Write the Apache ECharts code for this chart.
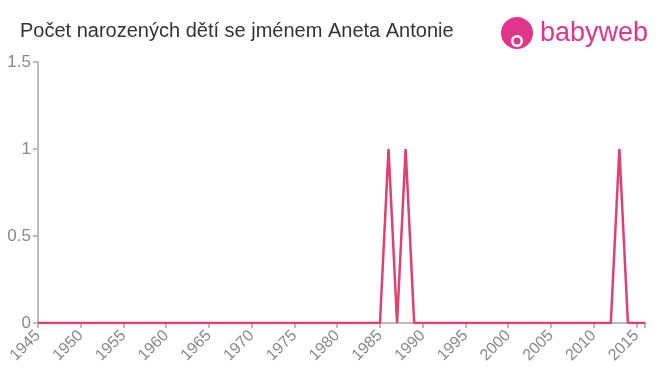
<!DOCTYPE html>
<html><head><meta charset="utf-8">
<script src="https://cdn.jsdelivr.net/npm/echarts@6/dist/echarts.min.js"></script>
<style>html,body{margin:0;padding:0;background:#fff}#c{width:660px;height:375px}</style>
</head><body><div id="c"></div>
<script>
var titleText = 'Počet narozených dětí se jménem Aneta Antonie';
var years = [1945,1946,1947,1948,1949,1950,1951,1952,1953,1954,1955,1956,1957,1958,1959,1960,1961,1962,1963,1964,1965,1966,1967,1968,1969,1970,1971,1972,1973,1974,1975,1976,1977,1978,1979,1980,1981,1982,1983,1984,1985,1986,1987,1988,1989,1990,1991,1992,1993,1994,1995,1996,1997,1998,1999,2000,2001,2002,2003,2004,2005,2006,2007,2008,2009,2010,2011,2012,2013,2014,2015,2016];
var counts = [0,0,0,0,0,0,0,0,0,0,0,0,0,0,0,0,0,0,0,0,0,0,0,0,0,0,0,0,0,0,0,0,0,0,0,0,0,0,0,0,0,1,0,1,0,0,0,0,0,0,0,0,0,0,0,0,0,0,0,0,0,0,0,0,0,0,0,0,1,0,0,0];
var yTicks = [0, 0.5, 1, 1.5];

var chart = echarts.init(document.getElementById('c'), null, {renderer:'canvas'});
var data = years.map(function(y,i){return [y, counts[i]];});
chart.setOption({
  animation:false,
  title:{text:titleText,left:15,top:16,textStyle:{fontFamily:'Liberation Sans, Arial, sans-serif',fontSize:20,fontWeight:'normal',color:'#333'}},
  graphic:[
    {type:'circle',shape:{cx:517,cy:33,r:16},style:{fill:'#e0358a'}},
    {type:'circle',shape:{cx:517,cy:41,r:6},style:{fill:'#fff'}},
    {type:'circle',shape:{cx:517,cy:41,r:3.5},style:{fill:'#e0358a'}},
    {type:'text',x:540,y:20,style:{text:'babyweb',fontFamily:'Liberation Sans, Arial, sans-serif',fontSize:27,fill:'#e0358a'}}
  ],
  grid:{left:38,right:15,top:62,bottom:52,containLabel:false},
  xAxis:{type:'value',min:1945,max:2016,interval:5,
    axisLine:{lineStyle:{color:'#bbb',width:2}},
    axisTick:{show:true,length:5,lineStyle:{color:'#bbb',width:2}},
    axisLabel:{rotate:45,color:'#888',fontSize:16,fontFamily:'Liberation Sans, Arial, sans-serif',margin:10,
      formatter:function(v){return (v%5===0 && v<=2015)?String(v):'';}},
    splitLine:{show:false}},
  yAxis:{type:'value',min:0,max:1.5,interval:0.5,
    axisLine:{show:true,lineStyle:{color:'#bbb',width:2}},
    axisTick:{show:true,length:5,lineStyle:{color:'#bbb',width:2}},
    axisLabel:{color:'#888',fontSize:17,fontFamily:'Liberation Sans, Arial, sans-serif',margin:7,
      formatter:function(v){return yTicks.indexOf(v)>=0?String(v):'';}},
    splitLine:{show:false}},
  series:[{type:'line',data:data,symbol:'none',lineStyle:{color:'#e0406f',width:2.5}}]
});
</script></body></html>
